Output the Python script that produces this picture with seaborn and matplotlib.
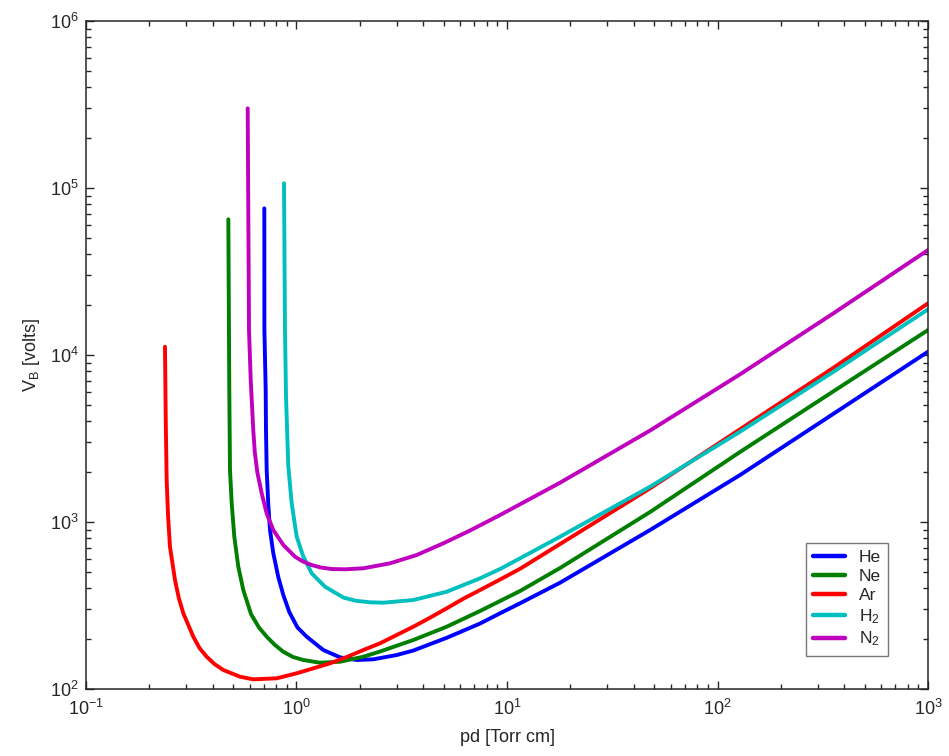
import numpy as np
import pandas as pd
import seaborn as sns
import matplotlib
matplotlib.use("Agg")
import matplotlib.pyplot as plt

# values (pd in Torr cm, breakdown voltage in volts)
he_pd = [0.7034, 0.7040, 0.714, 0.7163, 0.7218, 0.7347, 0.7484, 0.7757, 0.8193, 0.8659, 0.9242,
         1.011, 1.118, 1.341, 1.610, 1.932, 2.317, 2.993, 3.589, 5.171, 7.446, 9.267, 11.53,
         17.86, 47.82, 127.9, 354, 1000]
he_vb = [75580, 14110, 6172, 3556, 2048, 1264, 895.6, 652.2, 468.5, 365.5, 289.1,
         233.5, 205.7, 171.2, 154.8, 149.2, 150.6, 159.8, 170.0, 202.6, 246.7, 284, 326.1,
         432.9, 895.6, 1911, 4434, 10470]

ne_pd = [0.4745, 0.4795, 0.4832, 0.4923, 0.5065, 0.5291, 0.5589, 0.6079, 0.6634, 0.7221, 0.7904,
         0.8659, 0.9624, 1.0775, 1.293, 1.610, 2.077, 2.494, 3.589, 5.171, 7.446, 9.267, 11.53,
         17.86, 47.82, 127.9, 354, 1000]
ne_vb = [64950, 6172, 2048, 1294, 816.6, 540, 391.6, 281.2, 233.5, 205.7, 183.4,
         167.2, 155.5, 149.2, 143.7, 145.7, 156.1, 167.7, 196.6, 236.1, 293.2, 336.5, 386.2,
         530.2, 1148, 2626, 6045, 14110]

ar_pd = [0.2373, 0.2393, 0.2417, 0.2453, 0.2506, 0.2648, 0.2760, 0.290, 0.3235, 0.3461, 0.3745,
         0.4077, 0.449, 0.5391, 0.6233, 0.8054, 1.002, 1.443, 1.732, 2.077, 2.494, 2.993, 3.589,
         4.308, 5.171, 6.203, 7.446, 9.267, 11.53, 17.86, 47.82, 127.9, 354, 1000]
ar_vb = [11200, 4081, 1784, 1101, 711, 449, 350.6, 284, 205.7, 176.0, 156.1,
         141.1, 130, 118.5, 114.3, 115.9, 124.2, 142.5, 155.5, 171.2, 187.8, 210.6, 236.1,
         267.3, 304.2, 347.3, 391.6, 452.5, 524.6, 738, 1591, 3591, 8358, 20400]

h2_pd = [0.8724, 0.8818, 0.8917, 0.9142, 0.9488, 1.0023, 1.0775, 1.181, 1.366, 1.669, 1.918,
         2.235, 2.585, 3.589, 5.171, 7.446, 9.267, 11.53, 17.86, 47.82, 127.9, 354, 1000]
h2_vb = [106700, 14110, 5628, 2164, 1294, 816.6, 620, 492.8, 409.8, 353.1, 337.4,
         330.6, 328.7, 341.1, 382.4, 460.1, 523, 606, 816.6, 1627, 3473, 7911, 18780]

n2_pd = [0.5864, 0.5949, 0.6061, 0.6233, 0.6336, 0.6513, 0.6834, 0.7218, 0.7757, 0.8659, 0.9837,
         1.074, 1.181, 1.307, 1.470, 1.699, 2.077, 2.781, 3.726, 4.984, 6.674, 9.267, 17.86,
         47.82, 127.9, 354, 1000]
n2_vb = [300000, 14110, 7086, 3556, 2626, 1992, 1485, 1127, 895.6, 728.4, 619.8,
         580, 552.6, 533.9, 523, 521, 528.2, 565.7, 634.5, 745.7, 889.4, 1101, 1719,
         3531, 7662, 17720, 42530]

gases = ['He', 'Ne', 'Ar', 'H$_2$', 'N$_2$']
colors = ['#0000ff', '#007f00', '#ff0000', '#00bfbf', '#bf00bf']

frames = []
for name, x, y in zip(gases, [he_pd, ne_pd, ar_pd, h2_pd, n2_pd],
                      [he_vb, ne_vb, ar_vb, h2_vb, n2_vb]):
    frames.append(pd.DataFrame({'pd': x, 'vb': y, 'gas': name}))
df = pd.concat(frames, ignore_index=True)

sns.set_style('ticks')
plt.rcParams['font.family'] = ['Liberation Sans', 'DejaVu Sans']
plt.rcParams['mathtext.fontset'] = 'custom'
plt.rcParams['mathtext.rm'] = 'Liberation Sans'
plt.rcParams['mathtext.it'] = 'Liberation Sans:italic'
plt.rcParams['mathtext.bf'] = 'Liberation Sans:bold'

fig = plt.figure(figsize=(9.49, 7.56), dpi=100)
ax = fig.add_axes([0.0906, 0.0886, 0.8873, 0.8836])

sns.lineplot(data=df, x='pd', y='vb', hue='gas', hue_order=gases,
             palette=colors, sort=False, estimator=None, lw=2.8, ax=ax)
for line in ax.get_lines():
    line.set_solid_joinstyle('round')

ax.set_xscale('log')
ax.set_yscale('log')
ax.set_xlim(0.1, 1000)
ax.set_ylim(100, 1e6)
ax.set_xlabel('pd [Torr cm]', fontsize=13, labelpad=7)
ax.set_ylabel('V$_\\mathrm{B}$ [volts]', fontsize=13, labelpad=6)
ax.tick_params(which='both', direction='in', top=True, right=True,
               labelsize=13, width=1.0)
ax.tick_params(axis='x', which='major', pad=7)
ax.tick_params(axis='y', which='major', pad=5)
ax.tick_params(which='major', length=6)
ax.tick_params(which='minor', length=3.5)
for s in ax.spines.values():
    s.set_linewidth(1.1)

leg = ax.legend(loc='lower right', bbox_to_anchor=(0.953, 0.049), borderaxespad=0,
                fontsize=12.5, handlelength=1.8, frameon=True, fancybox=False,
                edgecolor='#777777', framealpha=1, title=None, labelspacing=0.22,
                borderpad=0.45)
for line in leg.get_lines():
    line.set_linewidth(3.2)

fig.savefig('out.png', dpi=100)
